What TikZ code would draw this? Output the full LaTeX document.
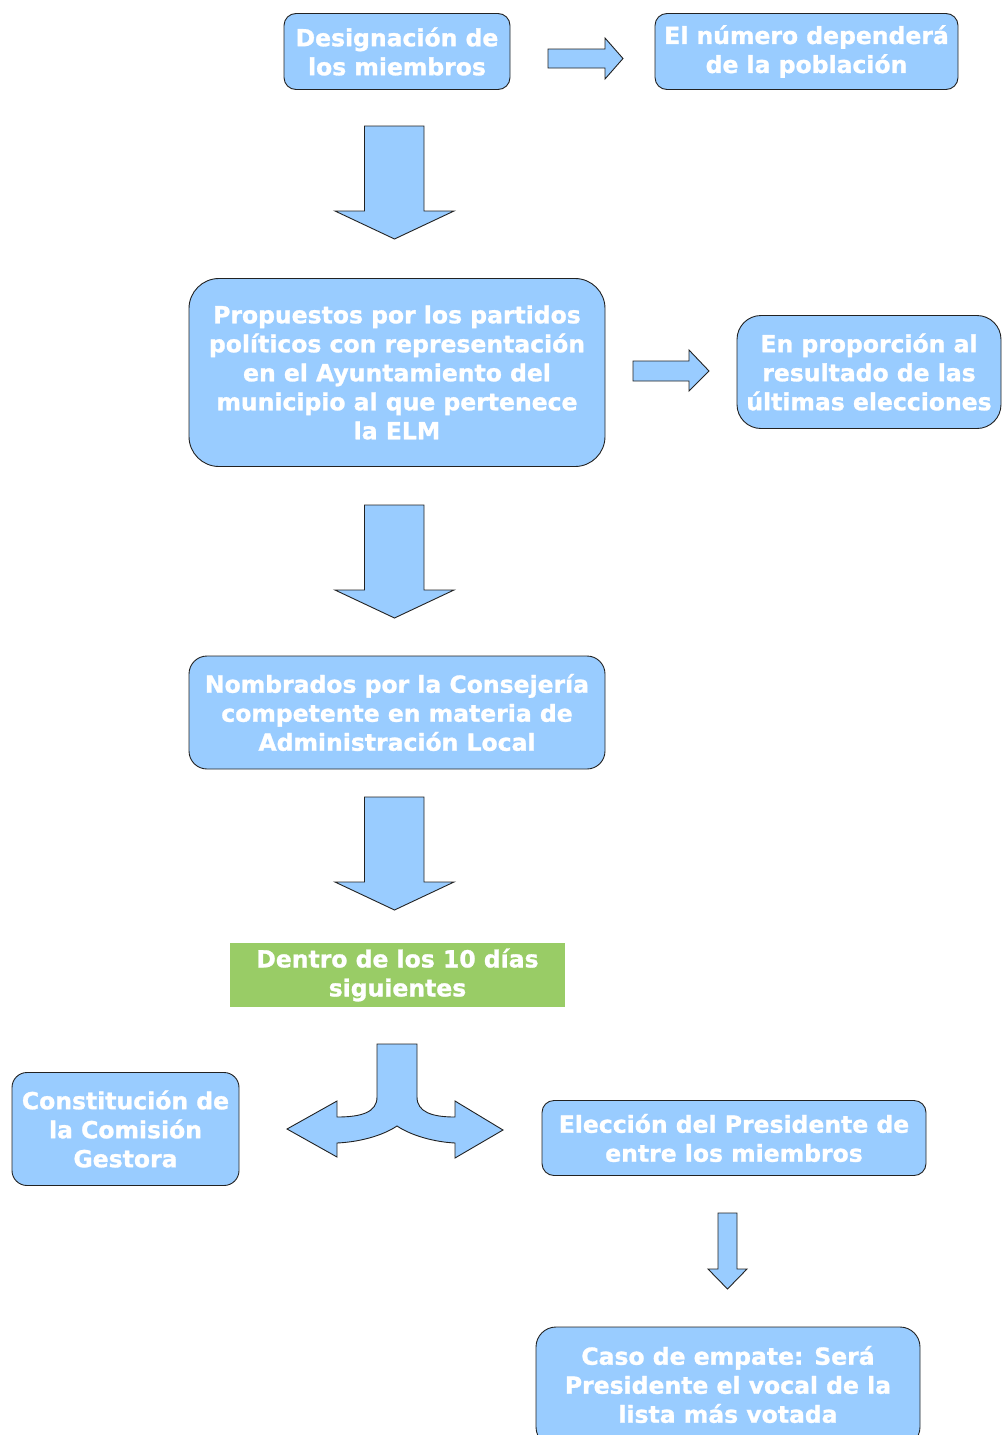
\documentclass[tikz,border=0pt]{standalone}
\usepackage{fontspec}
\setmainfont{DejaVu Sans}[BoldFeatures={FakeBold=1.2}]
\definecolor{boxblue}{HTML}{99CCFF}
\definecolor{boxgreen}{HTML}{99CC66}
\definecolor{edge}{HTML}{222222}
\begin{document}
\begin{tikzpicture}[x=1pt,y=-1pt,
  box/.style={draw=edge, line width=0.9pt, fill=boxblue, text=white, align=center, inner sep=0pt,
    font=\fontsize{23.5}{29}\selectfont\bfseries},
  blockarrow/.style={draw=edge, line width=0.9pt, fill=boxblue, line join=miter}]
\useasboundingbox (0,0) rectangle (1002,1435);
\begin{scope}
\clip (0,0) rectangle (1002,1435);
% boxes
\node[box, rounded corners=12pt, minimum width=226pt, minimum height=76pt] (d1) at (397,51.5) {Designación de\\los miembros};
\node[box, rounded corners=12pt, minimum width=303pt, minimum height=76pt] (d2) at (806.5,51.5) {El número dependerá\\de la población};
\node[box, rounded corners=30pt, minimum width=416pt, minimum height=188pt] (p1) at (397,372.5) {Propuestos por los partidos\\políticos con representación\\en el Ayuntamiento del\\municipio al que pertenece\\la ELM};
\node[box, rounded corners=24pt, minimum width=264pt, minimum height=113pt] (p2) at (869,372) {En proporción al\\resultado de las\\últimas elecciones};
\node[box, rounded corners=18pt, minimum width=416pt, minimum height=113pt] (n1) at (397,712.5) {Nombrados por la Consejería\\competente en materia de\\Administración Local};
\node[box, draw=none, fill=boxgreen, minimum width=335pt, minimum height=64pt] (g1) at (397.5,975) {Dentro de los 10 días\\siguientes};
\node[box, rounded corners=15pt, minimum width=227pt, minimum height=113pt] (c1) at (125.5,1129) {Constitución de\\la Comisión\\Gestora};
\node[box, rounded corners=12pt, minimum width=384pt, minimum height=75pt] (e1) at (734,1138) {Elección del Presidente de\\entre los miembros};
\node[box, rounded corners=20pt, minimum width=384pt, minimum height=120pt] (e2) at (728,1387) {};
\node[text=white, align=center, font=\fontsize{23.5}{29}\selectfont\bfseries] (e2t) at (728,1384.5) {Caso de empate: Será\\Presidente el vocal de la\\lista más votada};
\end{scope}
% block arrows
\draw[blockarrow] (548,49) -- (605,49) -- (605,38) -- (623,58.5) -- (605,79) -- (605,68) -- (548,68) -- cycle;
\draw[blockarrow] (633,361) -- (689,361) -- (689,350) -- (709,371) -- (689,391) -- (689,381) -- (633,381) -- cycle;
\draw[blockarrow] (364.5,126) -- (424,126) -- (424,211) -- (454,211) -- (394.5,239) -- (335,211) -- (364.5,211) -- cycle;
\draw[blockarrow] (364.5,505) -- (424,505) -- (424,590) -- (454,590) -- (394.5,618) -- (335,590) -- (364.5,590) -- cycle;
\draw[blockarrow] (364.5,797) -- (424,797) -- (424,882) -- (454,882) -- (394.5,910) -- (335,882) -- (364.5,882) -- cycle;
\draw[blockarrow] (718,1213) -- (737,1213) -- (737,1269) -- (747,1269) -- (727.5,1289) -- (708,1269) -- (718,1269) -- cycle;
% split arrow
\draw[blockarrow] (377,1044) -- (417,1044) -- (417,1097)
  .. controls (417,1112) and (432,1117) .. (455,1117)
  -- (455,1101) -- (503,1130) -- (455,1158) -- (455,1143)
  .. controls (435,1142) and (412,1136) .. (397,1126)
  .. controls (382,1136) and (359,1142) .. (337,1143)
  -- (337,1157) -- (287,1129) -- (337,1101) -- (337,1117)
  .. controls (362,1117) and (377,1112) .. (377,1097) -- cycle;
\end{tikzpicture}
\end{document}
